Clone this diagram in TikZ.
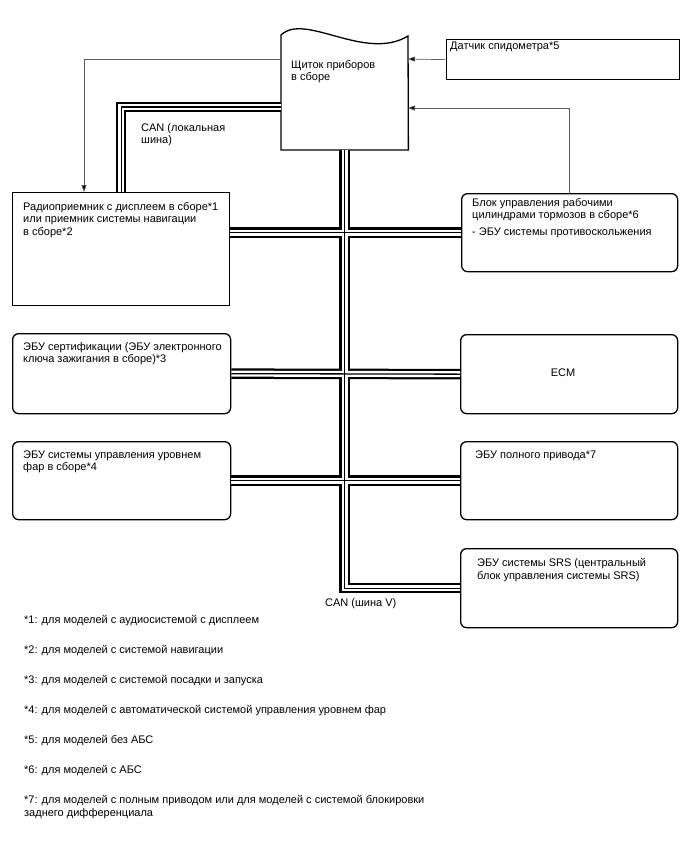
\documentclass[tikz,border=0pt]{standalone}
\usepackage{fontspec}
\setmainfont{Liberation Sans}
\usetikzlibrary{arrows.meta,calc}
\begin{document}
\begin{tikzpicture}[x=1pt,y=-1pt,
  box/.style={draw, line width=1.3pt, inner sep=0pt, anchor=north west},
  rbox/.style={box, rounded corners=6pt},
  txt/.style={inner sep=0pt, anchor=north west, align=left, font=\fontsize{11}{12.3}\selectfont},
  thinline/.style={line width=0.7pt, draw=black!65},
  arr/.style={thinline, -{Triangle[length=7pt,width=5pt,fill=black]}}
]
\useasboundingbox (0,0) rectangle (688,852);
\fill[white] (0,0) rectangle (688,852);

% cluster
\node[inner sep=0pt, minimum width=127pt, minimum height=115pt, anchor=south west] (cl) at (281,150) {};
\draw[line width=1.3pt] (cl.south west) -- (281,35) .. controls (305,12) and (365,62) .. (408,36) -- (cl.south east) -- cycle;
\node[txt] (clt) at (291,60.4) {Щиток приборов\\в сборе};
\coordinate (clL1) at (281,59);
\coordinate (clL2) at (281,107);
\coordinate (clR1) at (408,59);
\coordinate (clR2) at (408,108);
\coordinate (radioin) at (84,192);

% boxes
\node[box, minimum width=233pt, minimum height=40pt] (spd) at (446,39) {};
\node[txt] (spdt) at (450,41.4) {Датчик спидометра*5};

\node[box, minimum width=217pt, minimum height=113pt] (radio) at (12,192) {};
\node[txt] (radiot) at (23,202.4) {Радиоприемник с дисплеем в сборе*1\\или приемник системы навигации\\в сборе*2};

\node[rbox, minimum width=216pt, minimum height=78pt] (brk) at (461,193) {};
\node[txt] (brkt) at (472,198.4) {Блок управления рабочими\\цилиндрами тормозов в сборе*6\\[4.7pt]- ЭБУ системы противоскольжения};

\node[rbox, minimum width=218pt, minimum height=80pt] (cert) at (12,333) {};
\node[txt] (certt) at (23,342.4) {ЭБУ сертификации (ЭБУ электронного\\ключа зажигания в сборе)*3};

\node[rbox, minimum width=218pt, minimum height=78pt] (head) at (12,441) {};
\node[txt] (headt) at (23,450.4) {ЭБУ системы управления уровнем\\фар в сборе*4};

\node[rbox, minimum width=217pt, minimum height=79pt] (ecm) at (460,334) {};
\node[txt, anchor=center] (ecmt) at (563,373) {ECM};

\node[rbox, minimum width=217pt, minimum height=78pt] (awd) at (460,441) {};
\node[txt] (awdt) at (475,450.4) {ЭБУ полного привода*7};

\node[rbox, minimum width=217pt, minimum height=79pt] (srs) at (460,548) {};
\node[txt] (srst) at (477,558.4) {ЭБУ системы SRS (центральный\\блок управления системы SRS)};

% thin arrows
\draw[arr] (spd.west) -- (clR1);
\draw[arr] (brk.north) |- (clR2);
\draw[arr] (clL1) -| (radioin);

% buses
\foreach \w/\c in {10.5/black,6/white,1.3/black}{
  \draw[line width=\w pt, draw=\c] (clL2) -| (radio.north);
  \draw[line width=\w pt, draw=\c] (radio.east |- brk.west) -- (brk.west);
  \draw[line width=\w pt, draw=\c] (cl.south) -- (cl.south |- srs.west) -- (srs.west);
  \draw[line width=\w pt, draw=\c] (cert.east) -- (ecm.west);
  \draw[line width=\w pt, draw=\c] (head.east) -- (awd.west);
}

\node[txt] (canl) at (141,123.4) {CAN (локальная\\шина)};
\node[txt] (canv) at (325,598.4) {CAN (шина V)};

% footnotes
\node[txt] (f1) at (24,615.4) {*1: для моделей с аудиосистемой с дисплеем};
\node[txt] (f2) at (24,645.4) {*2: для моделей с системой навигации};
\node[txt] (f3) at (24,675.4) {*3: для моделей с системой посадки и запуска};
\node[txt] (f4) at (24,705.4) {*4: для моделей с автоматической системой управления уровнем фар};
\node[txt] (f5) at (24,735.4) {*5: для моделей без АБС};
\node[txt] (f6) at (24,765.4) {*6: для моделей с АБС};
\node[txt] (f7) at (24,795.4) {*7: для моделей с полным приводом или для моделей с системой блокировки\\заднего дифференциала};
\end{tikzpicture}
\end{document}
